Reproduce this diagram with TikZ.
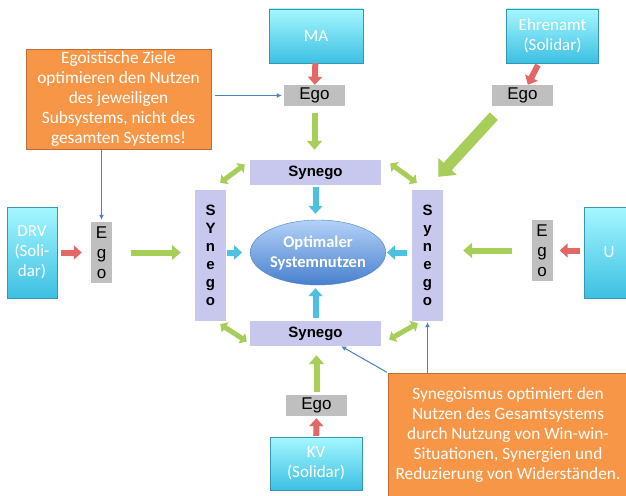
\documentclass[tikz,border=0pt]{standalone}
\usepackage{fontspec}
\setmainfont{Carlito}
\newfontfamily\arialfont{Liberation Sans}
\usetikzlibrary{arrows.meta,shapes.geometric}

\definecolor{cyanTop}{RGB}{165,247,255}
\definecolor{cyanBot}{RGB}{60,192,226}
\definecolor{cyanLine}{RGB}{55,150,180}
\definecolor{orangeFill}{RGB}{247,150,70}
\definecolor{orangeLine}{RGB}{190,110,50}
\definecolor{egoGray}{RGB}{191,191,191}
\definecolor{synLilac}{RGB}{200,200,238}
\definecolor{optTop}{RGB}{180,210,248}
\definecolor{optBot}{RGB}{72,128,205}
\definecolor{redArrow}{RGB}{226,104,104}
\definecolor{greenArrow}{RGB}{166,206,88}
\definecolor{blueArrow}{RGB}{78,192,226}
\definecolor{noteLine}{RGB}{79,129,189}

\begin{document}
\begin{tikzpicture}
      [x=1pt,y=-1pt,
       party/.style={rectangle,draw=cyanLine,top color=cyanTop,bottom color=cyanBot,
         text=white,align=center,inner sep=0pt,font=\fontsize{17}{20}\selectfont},
       note/.style={rectangle,draw=orangeLine,fill=orangeFill,text=white,
         align=center,inner sep=0pt,font=\fontsize{17.3}{20}\selectfont},
       ego/.style={rectangle,fill=egoGray,align=center,inner sep=0pt,
         font=\arialfont\fontsize{17}{20}\selectfont},
       syn/.style={rectangle,fill=synLilac,align=center,inner sep=0pt,
         font=\arialfont\bfseries\fontsize{15}{18}\selectfont},
       egoflow/.style={redArrow,line width=6pt,-{Triangle[length=8pt,width=14pt]}},
       synflow/.style={greenArrow,line width=6pt,-{Triangle[length=9pt,width=15pt]}},
       optflow/.style={blueArrow,line width=6pt,-{Triangle[length=8pt,width=14pt]}},
       mutual/.style={greenArrow,line width=5pt,
         {Triangle[length=6pt,width=12pt]}-{Triangle[length=6pt,width=12pt]}},
       hint/.style={noteLine,line width=1pt,-{Latex[length=5pt,width=5pt]}}]
      \useasboundingbox (0,0) rectangle (626,495);
      \clip (0,0) rectangle (626,495);

      % Teilsysteme
      \node [party,minimum width=94,minimum height=54] (ma) at (316,36) {MA};
      \node [party,minimum width=92,minimum height=54] (ehren) at (552.5,36) {Ehrenamt\\(Solidar)};
      \node [party,minimum width=50,minimum height=91] (drv) at (32,252.5) {DRV\\(Soli-\\dar)};
      \node [party,minimum width=50,minimum height=91] (u) at (609,252.5) {U};
      \node [party,minimum width=92,minimum height=53] (kv) at (316,463.5) {KV\\(Solidar)};

      % Ego
      \node [ego,minimum width=61,minimum height=21] (egoT) at (314.5,95.5) {Ego};
      \node [ego,minimum width=61,minimum height=21] (egoE) at (522.5,95.5) {Ego};
      \node [ego,minimum width=21,minimum height=61] (egoL) at (101.5,252.5) {E\\g\\o};
      \node [ego,minimum width=21,minimum height=61] (egoR) at (542,250.5) {E\\g\\o};
      \node [ego,minimum width=61,minimum height=21] (egoB) at (316.5,405.5) {Ego};

      % Synego
      \node [syn,minimum width=131,minimum height=25] (synT) at (315.5,172.5) {Synego};
      \node [syn,minimum width=131,minimum height=25] (synB) at (315.5,333.5) {Synego};
      \node [syn,minimum width=31,minimum height=131] (synL) at (210.5,255.5) {S\\Y\\n\\e\\g\\o};
      \node [syn,minimum width=31,minimum height=131] (synR) at (427.5,255.5) {S\\y\\n\\e\\g\\o};

      \node [ellipse,draw=optBot,top color=optTop,bottom color=optBot,text=white,
        inner sep=0pt,minimum width=124,minimum height=65,align=center,
        font=\bfseries\fontsize{16.5}{20}\selectfont] (opt) at (318,252.5) {Optimaler\\Systemnutzen};

      % Hinweise
      \node [note,minimum width=185,minimum height=100] (noteL) at (118.5,99)
        {Egoistische Ziele\\optimieren den Nutzen\\des jeweiligen\\Subsystems, nicht des\\gesamten Systems!};
      \node [note,minimum width=240,minimum height=124] (noteR) at (508,435)
        {Synegoismus optimiert den\\Nutzen des Gesamtsystems\\durch Nutzung von Win-win-\\Situationen, Synergien und\\Reduzierung von Widerst\"anden.};

      \draw [egoflow] (ma) -- (egoT);
      \draw [egoflow,shorten <=2pt] (ehren) -- (egoE);
      \draw [egoflow,shorten <=4pt,shorten >=9pt] (drv) -- (egoL);
      \draw [egoflow,shorten <=4pt,shorten >=7pt] (u.west |- egoR) -- (egoR);
      \draw [egoflow,shorten <=1pt,shorten >=2pt] (kv) -- (egoB);

      \draw [synflow,shorten <=7pt,shorten >=10pt] (egoT) -- (egoT |- synT.north);
      \draw [synflow,line width=11pt,-{Triangle[length=14pt,width=24pt]}]
        ([shift={(2,10)}]egoE.south west) -- ([shift={(-5,-13)}]synR.north east);
      \draw [synflow,shorten <=19pt,shorten >=14pt] (egoL) -- (egoL -| synL.west);
      \draw [synflow,shorten <=19pt,shorten >=20pt] (egoR) -- (egoR -| synR.east);
      \draw [synflow,shorten <=3pt,shorten >=9pt] (egoB) -- (egoB |- synB.south);

      \draw [optflow,shorten <=2pt,shorten >=6pt] (synT.south) -- (synT.south |- opt.north);
      \draw [optflow,shorten <=3pt,shorten >=3pt] (synB.north) -- (synB.north |- opt.south);
      \draw [optflow,shorten <=1pt,shorten >=8pt] (synL.east |- opt) -- (opt.west);
      \draw [optflow,shorten <=5pt,shorten >=1pt] (synR.west |- opt) -- (opt.east);

      \draw [mutual] ([shift={(-6,-7)}]synL.north east) -- ([shift={(-5,-8)}]synT.west);
      \draw [mutual] ([shift={(9,-9)}]synT.east) -- ([shift={(5,-7)}]synR.north west);
      \draw [mutual] ([shift={(-6,3)}]synL.south east) -- ([shift={(-3,8)}]synB.west);
      \draw [mutual] ([shift={(8,6)}]synB.east) -- ([shift={(6,2)}]synR.south west);

      \draw [hint,shorten <=4pt,shorten >=2pt] (noteL.east |- egoT) -- (egoT.west);
      \draw [hint,shorten >=2pt] (noteL.south -| egoL) -- (egoL.north);
      \draw [hint,shorten <=1pt] (noteR.north west) -- ([xshift=-40pt]synB.south east);
      \draw [hint,shorten >=1pt] (noteR.north -| synR) -- (synR.south);
    \end{tikzpicture}
\end{document}
